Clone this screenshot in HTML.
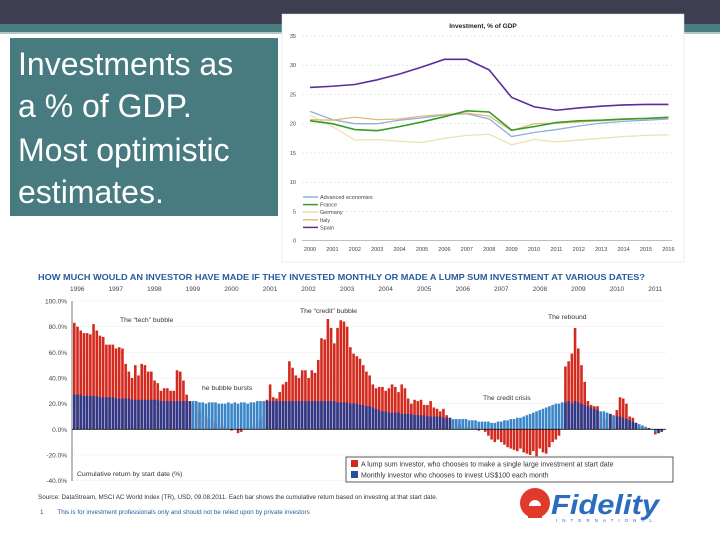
<!DOCTYPE html>
<html><head><meta charset="utf-8"><style>
html,body{margin:0;padding:0;background:#fff;}
svg{display:block;font-family:"Liberation Sans",sans-serif;}
</style></head><body>
<svg id="s" width="720" height="540" viewBox="0 0 720 540">
<rect x="0" y="0" width="720" height="24" fill="#3d3f50"/>
<rect x="0" y="24" width="720" height="8" fill="#4a7d82"/>
<rect x="0" y="32" width="720" height="2" fill="#b4c6c8"/>
<g>
<rect x="10" y="38" width="268" height="178" fill="#477b80"/>
<text x="18" y="75" font-size="32" fill="#fff">Investments as</text>
<text x="18" y="117" font-size="32" fill="#fff">a % of GDP.</text>
<text x="18" y="161" font-size="32" fill="#fff">Most optimistic</text>
<text x="18" y="203" font-size="32" fill="#fff">estimates.</text>
</g>
<rect x="282" y="14" width="402" height="248" fill="#fff" stroke="#ddd" stroke-width="0.5"/>
<text x="483" y="28" font-size="6.5" font-weight="bold" text-anchor="middle" fill="#222">Investment, % of GDP</text>
<g id="topg"></g>
<g id="botg"></g>
<text x="38" y="280" font-size="8.2" font-weight="bold" fill="#2a5aa0" textLength="607" lengthAdjust="spacingAndGlyphs">HOW MUCH WOULD AN INVESTOR HAVE MADE IF THEY INVESTED MONTHLY OR MADE A LUMP SUM INVESTMENT AT VARIOUS DATES?</text>
<g>
<rect x="346" y="457" width="327" height="25" fill="#fff" stroke="#333" stroke-width="0.8"/>
<rect x="351" y="460" width="7" height="7" fill="#d42a1e"/>
<text x="361" y="466.5" font-size="7" fill="#333">A lump sum investor, who chooses to make a single large investment at start date</text>
<rect x="351" y="471" width="7" height="7" fill="#2d4c9a"/>
<text x="361" y="477.5" font-size="7" fill="#333">Monthly investor who chooses to invest US$100 each month</text>
</g>
<text x="38" y="499" font-size="6.3" fill="#333">Source: DataStream, MSCI AC World Index (TR), USD, 09.08.2011. Each bar shows the cumulative return based on investing at that start date.</text>
<text x="40" y="514" font-size="6.3" fill="#2a5aa0" xml:space="preserve">1        This is for investment professionals only and should not be relied upon by private investors</text>
<g>
<circle cx="535" cy="503" r="15" fill="#e03a2a"/>
<circle cx="535" cy="506" r="6" fill="#fff"/>
<rect x="528" y="506" width="14" height="12" fill="#e03a2a"/>
<text x="551" y="514" font-size="28" font-weight="bold" font-style="italic" fill="#2a6cc0" textLength="108" lengthAdjust="spacingAndGlyphs">Fidelity</text>
<text x="556" y="522" font-size="4.5" fill="#2a6cc0" textLength="96" lengthAdjust="spacing">INTERNATIONAL</text>
</g>
</svg>
<script>
// ---------- Top chart data ----------
const years = [2000,2001,2002,2003,2004,2005,2006,2007,2008,2009,2010,2011,2012,2013,2014,2015,2016];
const yTicksTop = [0,5,10,15,20,25,30,35];
const advanced = [22.1,20.7,20,20,20.6,21,21.5,21.7,20.8,17.8,18.5,19,19.6,20.1,20.4,20.6,20.8];
const france   = [20.5,20,19,18.8,19.5,20.3,21.2,22.2,22,18.9,19.5,20.2,20.5,20.6,20.8,20.9,21.1];
const germany  = [21.5,19.5,17.2,17.3,17,16.8,17.5,18,18.2,16.4,17.3,16.9,17.2,17.5,17.8,18,18.1];
const italy    = [20.7,20.6,21.1,20.7,20.8,21.3,21.6,21.8,21.3,18.8,20,20.1,20.3,20.5,20.7,20.9,21];
const spain    = [26.2,26.4,26.7,27.5,28.5,29.7,31,31,29.2,24.5,22.9,22.3,22.7,23,23.2,23.3,23.3];
const seriesNames = ["Advanced economies","France","Germany","Italy","Spain"];

// ---------- Bottom chart data (monthly, Jan 1996 onward) ----------
const yearLabels = ["1996","1997","1998","1999","2000","2001","2002","2003","2004","2005","2006","2007","2008","2009","2010","2011"];
const yTicksBot = [100,80,60,40,20,0,-20,-40];
const lumpSum = [
83,80,77,75,75,74,82,77,73,72,66,66,
66,63,64,63,51,45,40,50,42,51,50,45,
45,38,36,30,32,32,30,30,46,45,38,27,
22,19,20,15,12,10,8,6,5,4,3,2,
0,-1,0,-3,-2,0,1,2,3,5,8,10,
23,35,25,24,29,35,37,53,48,42,40,46,
46,40,46,44,54,71,70,86,79,67,79,85,
84,80,64,59,57,55,50,45,42,35,32,33,
33,30,32,35,33,29,35,32,24,20,23,22,
23,19,19,22,17,16,14,16,11,9,7,6,
4,3,2,1,0,1,-1,0,-2,-5,-8,-10,
-8,-10,-12,-14,-15,-16,-17,-15,-18,-19,-20,-17,
-21,-15,-18,-19,-14,-10,-8,-5,5,49,53,59,
79,63,50,37,22,19,18,18,10,9,8,12,
10,15,25,24,20,10,9,5,3,2,1,1,
0,-4,-3,0];
const monthly = [
27,27,27,26,26,26,26,26,25,25,25,25,
25,24,24,24,24,24,23,23,23,23,23,23,
23,23,23,22,22,22,22,22,22,22,22,22,
22,22,22,21,21,20,21,21,21,20,20,20,
21,20,21,20,21,21,20,21,21,22,22,22,
22,22,22,22,22,22,22,22,22,22,22,22,
22,22,22,22,22,22,22,22,22,22,21,21,
21,21,20,20,20,19,19,18,18,17,16,15,
14,14,13,13,13,13,12,12,12,12,11,11,
11,11,10,10,10,10,10,9,9,9,8,8,
8,8,8,7,7,7,6,6,6,6,5,5,
6,6,7,7,8,8,9,9,10,11,12,13,
14,15,16,17,18,19,20,20,21,21,22,20,
22,21,20,19,18,17,16,15,14,14,13,12,
11,10,10,9,8,7,6,5,4,3,2,1,
0,-2,-3,-2];

const NS='http://www.w3.org/2000/svg';
function mk(tag,attrs,parent){const e=document.createElementNS(NS,tag);for(const k in attrs)e.setAttribute(k,attrs[k]);parent.appendChild(e);return e;}

// ---- top chart ----
const topG=document.getElementById('topg');
const tx=i=>310+i*22.4, ty=v=>240.7-v*5.85;
yTicksTop.forEach(v=>{
  const g=mk('line',{x1:302,x2:672,y1:ty(v),y2:ty(v),stroke:v===0?'#999':'#ddd','stroke-width':0.6,'stroke-dasharray':v===0?'none':'2,2'},topG);
  
  
  const t=mk('text',{x:296,y:ty(v)+2,'font-size':5.5,'text-anchor':'end',fill:'#444'},topG);t.textContent=v;
  
  
});
years.forEach((y,i)=>{
  const t=mk('text',{x:tx(i),y:251,'font-size':5.5,'text-anchor':'middle',fill:'#444'},topG);t.textContent=y;
  
  
});
const tdata=[advanced,france,germany,italy,spain];
const tcol=['#8fb0d8','#3a9a2a','#ece4ae','#e2bb74','#5a2d9a'];
const twid=[1.3,1.6,1.3,1.3,1.6];
[2,0,3,1,4].forEach(s=>{
  const p=mk('polyline',{points:tdata[s].map((v,i)=>tx(i)+','+ty(v)).join(' '),fill:'none',stroke:tcol[s],'stroke-width':twid[s]},topG);
  
  
});
seriesNames.forEach((n,i)=>{
  const y=197+i*7.6;
  const l=mk('line',{x1:303,x2:318,y1:y,y2:y,stroke:tcol[i],'stroke-width':1.5},topG);
  
  
  const t=mk('text',{x:320,y:y+2,'font-size':5.5,fill:'#444'},topG);t.textContent=n;
  
  
});

// ---- bottom chart ----
const botG=document.getElementById('botg');
const by=v=>429.3-v*1.283;
const step=3.21, bx=i=>73+i*step, bw=2.6;
yTicksBot.forEach(v=>{
  if(v!==0){const g=mk('line',{x1:72,x2:665,y1:by(v),y2:by(v),stroke:'#ddd','stroke-width':0.6,'stroke-dasharray':'1,1'},botG);
  
  }
  const t=mk('text',{x:67,y:by(v)+2.5,'font-size':6.5,'text-anchor':'end',fill:'#444'},botG);t.textContent=v.toFixed(1)+'%';
  
  
});
yearLabels.forEach((y,i)=>{
  const t=mk('text',{x:70+i*38.55,y:291,'font-size':6.5,fill:'#444'},botG);t.textContent=y;
  
  
});
lumpSum.forEach((v,i)=>{
  const r=mk('rect',{x:bx(i),y:Math.min(by(v),by(0)),width:bw,height:Math.abs(by(v)-by(0)),fill:'#d42a1e'},botG);
  
  
});
monthly.forEach((v,i)=>{
  const above=lumpSum[i]>=v;
  const r=mk('rect',{x:bx(i),y:Math.min(by(v),by(0)),width:bw,height:Math.abs(by(v)-by(0)),fill:above?'#2d3a8c':'#3a86c8'},botG);
  
  
});
const ax=mk('line',{x1:72,x2:72,y1:301,y2:481,stroke:'#555','stroke-width':0.8},botG);


const zl=mk('line',{x1:72,x2:666,y1:by(0),y2:by(0),stroke:'#111','stroke-width':0.9},botG);


const notes=[["The \u201ctech\u201d bubble",120,322],["The \u201ccredit\u201d bubble",300,313],["The rebound",548,319],["he bubble bursts",202,390],["The credit crisis",483,400],["Cumulative return by start date (%)",77,476]];
notes.forEach(n=>{
  const t=mk('text',{x:n[1],y:n[2],'font-size':6.8,fill:'#333'},botG);t.textContent=n[0];
  
  
});
</script>
</body></html>
